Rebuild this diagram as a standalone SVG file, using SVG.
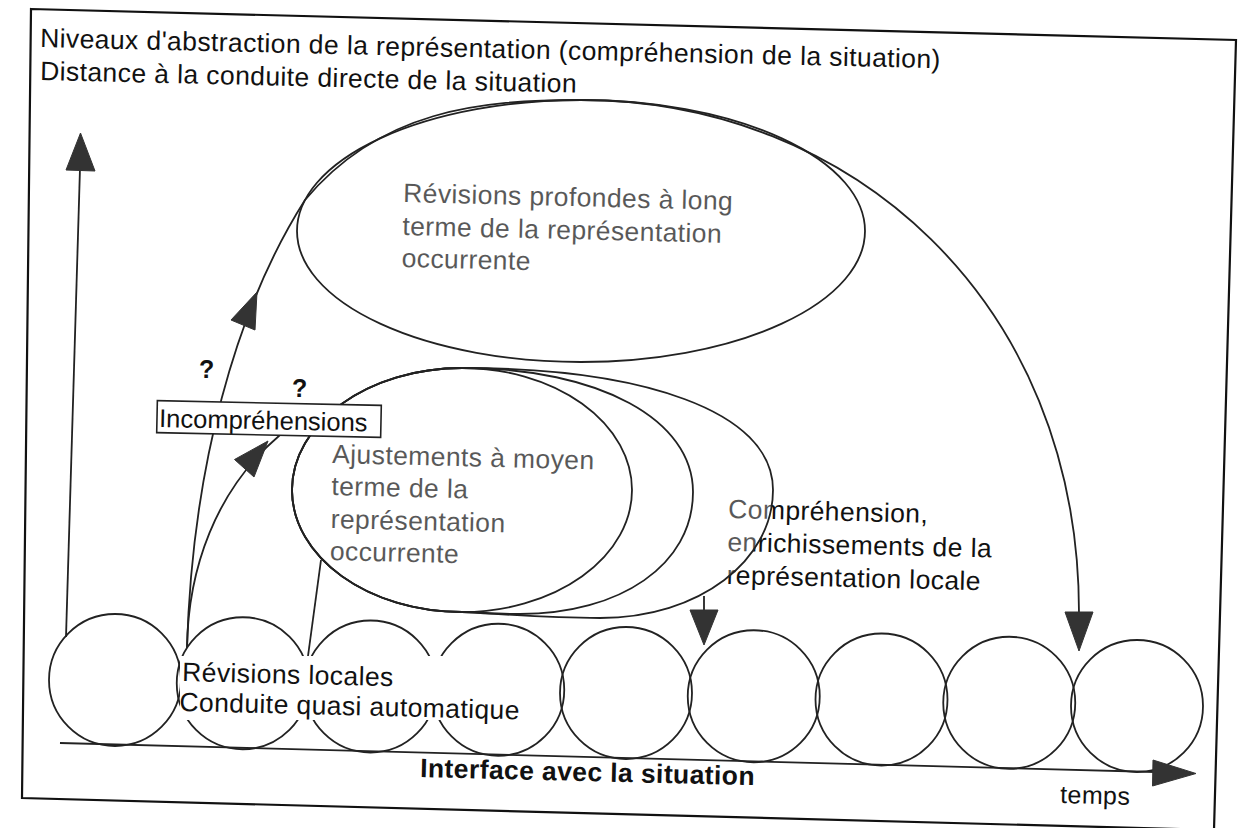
<svg xmlns="http://www.w3.org/2000/svg" width="1241" height="828" viewBox="0 0 1241 828">
<style>
.t{font-family:"Liberation Sans",Arial,Helvetica,sans-serif;font-size:26.5px;letter-spacing:0.4px;fill:#111}
.b{font-weight:bold}
.ln{fill:none;stroke:#222;stroke-width:1.8}
.ah{fill:#333;stroke:#333;stroke-width:1;stroke-linejoin:round}
.ov{fill:#fff;fill-opacity:0.3;stroke:none}
</style>
<rect width="1241" height="828" fill="#fff"/>
<polygon id="frame" points="31,9 1236,40 1214,830 22,798" fill="none" stroke="#111" stroke-width="2.2"/>

<g id="title">
<text class="t" x="40" y="47" transform="rotate(1.35 40 47)">Niveaux d'abstraction de la représentation (compréhension de la situation)</text>
<text class="t" x="40" y="80" transform="rotate(1.35 40 80)">Distance à la conduite directe de la situation</text>
</g>

<g id="comprehension">
<text class="t" transform="rotate(1.4 728 518)"><tspan x="728" y="518">Compréhension,</tspan><tspan x="728" y="551">enrichissements de la</tspan><tspan x="728" y="584">représentation locale</tspan></text>
</g>

<g id="revisions-profondes">
<text class="t" transform="rotate(1.4 403 202)"><tspan x="403" y="202">Révisions profondes à long</tspan><tspan x="403" y="235">terme de la représentation</tspan><tspan x="403" y="267">occurrente</tspan></text>
<ellipse class="ov" cx="581" cy="231" rx="284" ry="131"/>
<ellipse class="ln" cx="581" cy="231" rx="284" ry="131"/>
</g>

<g id="ajustements">
<text class="t" transform="rotate(1.4 332 463)"><tspan x="332" y="463">Ajustements à moyen</tspan><tspan x="332" y="495">terme de la</tspan><tspan x="332" y="528">représentation</tspan><tspan x="332" y="560">occurrente</tspan></text>
<path class="ov" d="M292,490 C292,423 368,368 462,368 C640,368 773,410 773,490 C773,560 700,618 600,618 C540,618 490,613 462,612 C368,612 292,557 292,490 Z"/>
<path class="ln" d="M292,490 C292,423 368,368 462,368 C640,368 773,410 773,490 C773,560 700,618 600,618 C540,618 490,613 462,612 C368,612 292,557 292,490 Z"/>
<path class="ln" d="M292,490 C292,423 368,368 462,368 C600,368 693,420 693,492 C693,565 620,614 520,614 C495,614 475,612 462,612 C368,612 292,557 292,490 Z"/>
<ellipse class="ln" cx="462" cy="490" rx="170" ry="122"/>
</g>

<g id="cycles">
<g id="c1"><circle class="ln" cx="115" cy="680" r="66"/></g>
<g id="c2"><circle class="ln" cx="242.75" cy="683.25" r="66"/></g>
<g id="c3"><circle class="ln" cx="370.5" cy="686.5" r="66"/></g>
<g id="c4"><circle class="ln" cx="498.25" cy="689.75" r="66"/></g>
<g id="c5"><circle class="ln" cx="626" cy="693" r="66"/></g>
<g id="c6"><circle class="ln" cx="753.75" cy="696.25" r="66"/></g>
<g id="c7"><circle class="ln" cx="881.5" cy="699.5" r="66"/></g>
<g id="c8"><circle class="ln" cx="1009.25" cy="702.75" r="66"/></g>
<g id="c9"><circle class="ln" cx="1137" cy="706" r="66"/></g>
</g>

<g id="revisions-locales">
<rect x="180" y="656" width="346" height="64" fill="#fff"/>
<text class="t" transform="rotate(1.4 182 681)"><tspan x="182" y="681">Révisions locales</tspan><tspan x="180" y="711">Conduite quasi automatique</tspan></text>
</g>

<g id="connectors">
<line class="ln" x1="66" y1="637" x2="80" y2="168"/>
<polygon class="ah" points="80.5,133 95,171 66,170"/>
<line class="ln" x1="60" y1="743" x2="1155" y2="772"/>
<polygon class="ah" points="1153,760 1196,773.5 1152.5,786"/>
<path class="ln" d="M187,648 C192,470 235,310 305,200 C380,110 480,100 581,100 C850,100 1079,300 1079,613"/>
<polygon class="ah" points="257,292 255,330 231,320"/>
<polygon class="ah" points="1065,612 1093,612 1079,651"/>
<path class="ln" d="M187,648 C188,570 215,490 280,435"/>
<polygon class="ah" points="268,441 254,477 234.5,459.5"/>
<line class="ln" x1="704" y1="596" x2="704" y2="612"/>
<polygon class="ah" points="690,610 718,610 704,645"/>
<line class="ln" x1="321" y1="560" x2="308" y2="656"/>
</g>

<g id="incomprehensions">
<rect x="157" y="403" width="224" height="32" fill="#fff" stroke="#222" stroke-width="1.6" transform="rotate(1.2 269 419)"/>
<text class="t" x="159" y="427" style="font-size:25.5px;letter-spacing:0" transform="rotate(1.2 159 427)">Incompréhensions</text>
<text class="t b" x="199" y="378" style="font-size:25px">?</text>
<text class="t b" x="292" y="397" style="font-size:25px">?</text>
</g>

<g id="axis-labels">
<text class="t b" x="420" y="777" transform="rotate(1.4 420 777)">Interface avec la situation</text>
<text class="t" x="1060" y="803" style="font-size:25px" transform="rotate(1.4 1060 803)">temps</text>
</g>
</svg>
